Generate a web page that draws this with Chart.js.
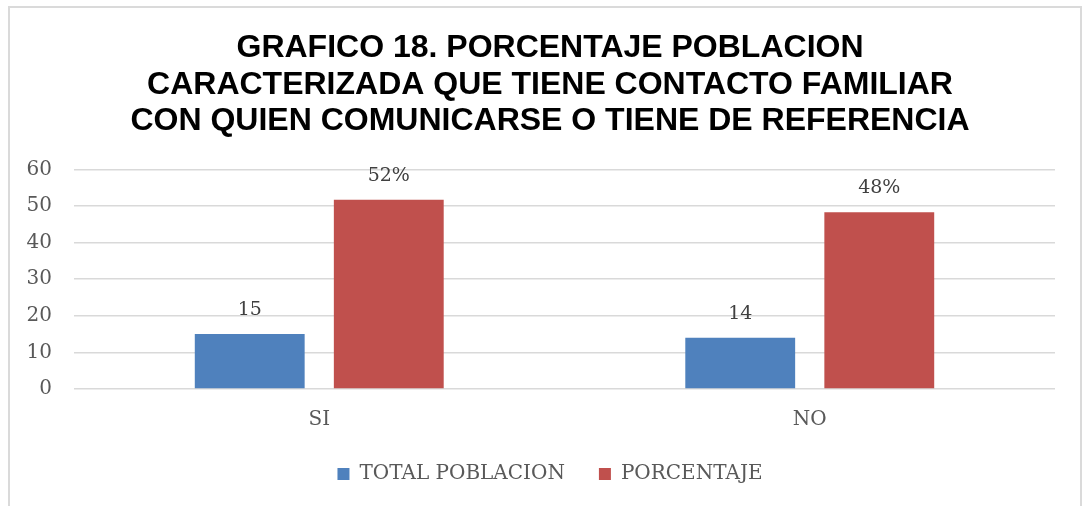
<!DOCTYPE html>
<html>
<head>
<meta charset="utf-8">
<script src="https://cdn.jsdelivr.net/npm/chart.js@4.4.1/dist/chart.umd.min.js"></script>
<style>
  html, body { margin: 0; padding: 0; background: #fff; }
  #wrap { position: relative; width: 1084px; height: 506px; overflow: hidden; }
  #frame { position: absolute; left: 8px; top: 6px; width: 1074px; height: 520px;
           border: 2px solid #dadada; box-sizing: border-box; }
  canvas { position: absolute; left: 0; top: 0; }
</style>
</head>
<body>
<div id="wrap">
  <div id="frame"></div>
  <canvas id="c" width="1084" height="506"></canvas>
</div>
<script>
const categories = ['SI', 'NO'];
const totalPoblacion = [15, 14];
const porcentaje = [51.7, 48.3];
const porcentajeLabels = ['52%', '48%'];
const totalLabels = ['15', '14'];
const yTicks = [0, 10, 20, 30, 40, 50, 60];
const titleLines = [
  'GRAFICO 18. PORCENTAJE POBLACION',
  'CARACTERIZADA QUE TIENE CONTACTO FAMILIAR',
  'CON QUIEN COMUNICARSE O TIENE DE REFERENCIA'
];

const SERIF = '"DejaVu Serif", serif';
const labelsByDataset = [totalLabels, porcentajeLabels];

const dataLabelPlugin = {
  id: 'dataLabelPlugin',
  afterDatasetsDraw(chart) {
    const ctx = chart.ctx;
    ctx.save();
    ctx.font = '19px ' + SERIF;
    ctx.fillStyle = '#404040';
    ctx.textAlign = 'center';
    ctx.textBaseline = 'middle';
    chart.data.datasets.forEach((ds, i) => {
      const meta = chart.getDatasetMeta(i);
      meta.data.forEach((el, j) => {
        ctx.fillText(labelsByDataset[i][j], el.x, el.y - 24);
      });
    });
    ctx.restore();
  }
};

new Chart(document.getElementById('c'), {
  type: 'bar',
  data: {
    labels: categories,
    datasets: [
      { label: 'TOTAL POBLACION', data: totalPoblacion, backgroundColor: '#4F81BD',
        categoryPercentage: 0.567, barPercentage: 0.79 },
      { label: 'PORCENTAJE', data: porcentaje, backgroundColor: '#C0504D',
        categoryPercentage: 0.567, barPercentage: 0.79 }
    ]
  },
  options: {
    responsive: false,
    animation: false,
    devicePixelRatio: 1,
    layout: { padding: { left: 16, right: 0, top: 0, bottom: 12 } },
    plugins: {
      title: {
        display: true,
        text: titleLines,
        color: '#000',
        font: { family: '"Liberation Sans", Arial, sans-serif', size: 32, weight: 'bold', lineHeight: 1.14 },
        padding: { top: 30, bottom: 30 }
      },
      legend: {
        display: true,
        position: 'bottom',
        labels: {
          boxWidth: 12, boxHeight: 12, padding: 34,
          color: '#595959',
          font: { family: SERIF, size: 20 }
        }
      },
      tooltip: { enabled: false }
    },
    scales: {
      x: {
        afterFit(scale) { scale.height = 41; },
        grid: { display: false, drawTicks: false },
        border: { display: false },
        ticks: { color: '#595959', font: { family: SERIF, size: 20, lineHeight: 1 }, padding: 21 }
      },
      y: {
        min: 0, max: 60,
        afterFit(scale) { scale.width = 58; },
        afterBuildTicks(scale) { scale.ticks = yTicks.map(v => ({ value: v })); },
        grid: { color: '#d9d9d9', lineWidth: 1.5, drawTicks: false },
        border: { display: false },
        ticks: { color: '#595959', font: { family: SERIF, size: 20 }, padding: 22 }
      },
      y2: {
        position: 'right',
        min: 0, max: 60,
        afterFit(scale) { scale.width = 29; },
        grid: { display: false, drawTicks: false },
        border: { display: false },
        ticks: { display: false }
      }
    }
  },
  plugins: [dataLabelPlugin]
});
</script>
</body>
</html>
